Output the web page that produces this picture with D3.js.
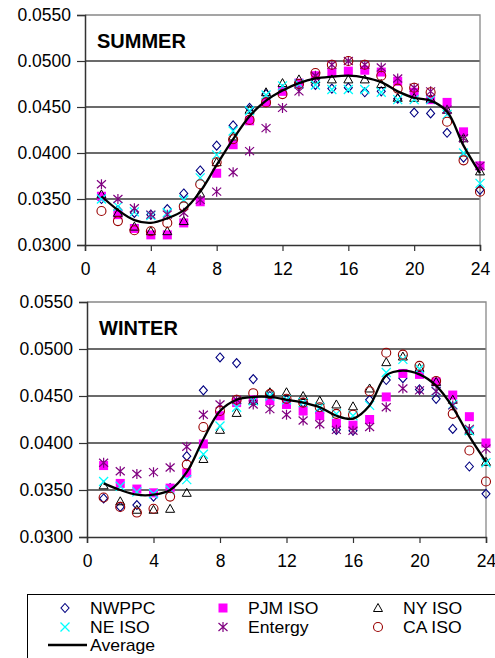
<!DOCTYPE html>
<html>
<head>
<meta charset="utf-8">
<script src="https://cdn.jsdelivr.net/npm/d3@7"></script>
<style>
  body { margin: 0; background: #fff; }
  text { font-family: Arial, "Liberation Sans", sans-serif; }
</style>
</head>
<body>
<div id="my_dataviz"></div>
<script>
var hours = [1,2,3,4,5,6,7,8,9,10,11,12,13,14,15,16,17,18,19,20,21,22,23,24];
var xTicks = [0,4,8,12,16,20,24];
var yTicks = [0.030,0.035,0.040,0.045,0.050,0.055];

var seriesNames = ["NWPPC","PJM ISO","NY ISO","NE ISO","Entergy","CA ISO"];

// summer
var sumNWPPC   = [0.0350,0.0338,0.0335,0.0333,0.0339,0.0356,0.0381,0.0408,0.0430,0.0449,0.0464,0.0469,0.0474,0.0474,0.0470,0.0471,0.0466,0.0467,0.0459,0.0444,0.0443,0.0422,0.0395,0.0360];
var sumPJM     = [0.0353,0.0333,0.0318,0.0311,0.0311,0.0324,0.0347,0.0378,0.0409,0.0435,0.0455,0.0467,0.0476,0.0484,0.0487,0.0489,0.0490,0.0488,0.0478,0.0466,0.0458,0.0455,0.0423,0.0386];
var sumNY      = [0.0355,0.0335,0.0320,0.0315,0.0315,0.0326,0.0356,0.0390,0.0418,0.0447,0.0466,0.0476,0.0480,0.0480,0.0480,0.0480,0.0480,0.0475,0.0460,0.0460,0.0459,0.0447,0.0416,0.0380];
var sumNE      = [0.0350,0.0342,0.0336,0.0332,0.0335,0.0349,0.0373,0.0398,0.0424,0.0446,0.0463,0.0473,0.0475,0.0474,0.0469,0.0469,0.0469,0.0466,0.0458,0.0458,0.0458,0.0442,0.0400,0.0367];
var sumEntergy = [0.0366,0.0350,0.0340,0.0333,0.0333,0.0335,0.0349,0.0358,0.0379,0.0402,0.0427,0.0449,0.0467,0.0484,0.0496,0.0500,0.0496,0.0493,0.0481,0.0471,0.0467,0.0447,0.0416,0.0386];
var sumCA      = [0.0337,0.0326,0.0316,0.0315,0.0324,0.0342,0.0366,0.0390,0.0415,0.0436,0.0455,0.0464,0.0475,0.0487,0.0496,0.0500,0.0496,0.0484,0.0470,0.0471,0.0466,0.0434,0.0392,0.0358];
var sumAverage = [0.0353,0.0338,0.0327,0.0324,0.0329,0.0338,0.0358,0.0387,0.0415,0.0440,0.0457,0.0468,0.0476,0.0481,0.0483,0.0484,0.0482,0.0477,0.0467,0.0460,0.0457,0.0445,0.0408,0.0378];

// winter
var winNWPPC   = [0.0341,0.0332,0.0334,0.0343,0.0352,0.0386,0.0456,0.0491,0.0485,0.0468,0.0450,0.0446,0.0443,0.0432,0.0414,0.0413,0.0446,0.0467,0.0469,0.0457,0.0447,0.0415,0.0375,0.0346];
var winPJM     = [0.0376,0.0357,0.0351,0.0347,0.0352,0.0368,0.0399,0.0429,0.0443,0.0446,0.0445,0.0441,0.0434,0.0429,0.0421,0.0419,0.0425,0.0449,0.0474,0.0473,0.0465,0.0451,0.0428,0.0400];
var winNY      = [0.0355,0.0338,0.0329,0.0329,0.0330,0.0347,0.0383,0.0414,0.0432,0.0445,0.0454,0.0454,0.0450,0.0445,0.0441,0.0439,0.0458,0.0486,0.0492,0.0480,0.0465,0.0446,0.0413,0.0380];
var winNE      = [0.0359,0.0354,0.0348,0.0346,0.0350,0.0361,0.0388,0.0418,0.0438,0.0445,0.0450,0.0446,0.0443,0.0438,0.0431,0.0429,0.0440,0.0475,0.0489,0.0479,0.0455,0.0441,0.0413,0.0379];
var winEntergy = [0.0379,0.0370,0.0367,0.0369,0.0374,0.0396,0.0430,0.0441,0.0446,0.0441,0.0436,0.0430,0.0424,0.0420,0.0414,0.0413,0.0417,0.0438,0.0458,0.0456,0.0455,0.0440,0.0415,0.0394];
var winCA      = [0.0342,0.0332,0.0326,0.0330,0.0343,0.0377,0.0417,0.0434,0.0446,0.0453,0.0452,0.0447,0.0443,0.0438,0.0431,0.0430,0.0455,0.0496,0.0494,0.0482,0.0466,0.0431,0.0392,0.0359];
var winAverage = [0.0357,0.0350,0.0345,0.0345,0.0350,0.0369,0.0404,0.0434,0.0446,0.0449,0.0449,0.0446,0.0443,0.0438,0.0429,0.0426,0.0440,0.0472,0.0477,0.0473,0.0461,0.0438,0.0407,0.0380];

var markers = ["diamond","square","triangle","cross","star","circle"];

var svg = d3.select("#my_dataviz")
    .append("svg")
    .attr("width", 495)
    .attr("height", 658);

function drawMarker(g, type, cx, cy) {
    if (type == "diamond") {
        g.append("path")
        .attr("d", `M${cx},${cy-4.5}L${cx+4},${cy}L${cx},${cy+4.5}L${cx-4},${cy}Z`)
        .attr("fill", "none").attr("stroke", "#000080").attr("stroke-width", 1.1);
    } else if (type == "square") {
        g.append("rect")
        .attr("x", cx-4.5).attr("y", cy-4.5).attr("width", 9).attr("height", 9)
        .attr("fill", "#ff00ff");
    } else if (type == "triangle") {
        g.append("path")
        .attr("d", `M${cx},${cy-4.5}L${cx+4.5},${cy+3.5}L${cx-4.5},${cy+3.5}Z`)
        .attr("fill", "none").attr("stroke", "#000").attr("stroke-width", 1);
    } else if (type == "cross") {
        g.append("path")
        .attr("d", `M${cx-4.5},${cy-4.5}L${cx+4.5},${cy+4.5}M${cx+4.5},${cy-4.5}L${cx-4.5},${cy+4.5}`)
        .attr("stroke", "#00ffff").attr("stroke-width", 1.3);
    } else if (type == "star") {
        g.append("path")
        .attr("d", `M${cx-4.5},${cy-4}L${cx+4.5},${cy+4}M${cx+4.5},${cy-4}L${cx-4.5},${cy+4}M${cx},${cy-5}L${cx},${cy+5}`)
        .attr("stroke", "#800080").attr("stroke-width", 1.2);
    } else if (type == "circle") {
        g.append("circle")
        .attr("cx", cx).attr("cy", cy).attr("r", 4.5)
        .attr("fill", "none").attr("stroke", "#990000").attr("stroke-width", 1.1);
    }
}

function drawPanel(left, right, top, bottom, title, series, average) {

    var x = d3.scaleLinear().domain([0, 24]).range([left, right]);
    var y = d3.scaleLinear().domain([0.030, 0.055]).range([bottom, top]);

    var g = svg.append("g");

    // gridlines
    g.selectAll(".grid")
    .data(yTicks.slice(1, 5))
    .enter().append("line")
    .attr("x1", left).attr("x2", right)
    .attr("y1", function(d) { return y(d); })
    .attr("y2", function(d) { return y(d); })
    .attr("stroke", "#3a3a3a")
    .attr("stroke-width", 1.3);

    // plot border top/right
    g.append("path")
    .attr("d", `M${left},${top}H${right}V${bottom}`)
    .attr("fill", "none")
    .attr("stroke", "#888")
    .attr("stroke-width", 1.3);

    var yAxis = g.append("g")
    .attr("transform", `translate(${left},0)`)
    .call(d3.axisLeft(y).tickValues(yTicks).tickFormat(d3.format(".4f")).tickSize(8).tickPadding(6));

    var xAxis = g.append("g")
    .attr("transform", `translate(0,${bottom})`)
    .call(d3.axisBottom(x).tickValues(xTicks).tickSize(6).tickPadding(12));

    [yAxis, xAxis].forEach(function(a) {
        a.select(".domain").attr("stroke", "#333").attr("stroke-width", 1.5);
        a.selectAll(".tick line").attr("stroke", "#333").attr("stroke-width", 1.2);
        a.selectAll("text")
        .attr("font-size", "17.5px")
        .attr("font-family", "Arial, 'Liberation Sans', sans-serif")
        .attr("fill", "#000");
    });

    g.append("text")
    .attr("x", left + 12)
    .attr("y", top + 33)
    .attr("font-size", "20px")
    .attr("font-weight", "bold")
    .text(title);

    series.forEach(function(vals, i) {
        var sg = g.append("g");
        vals.forEach(function(v, j) {
            drawMarker(sg, markers[i], x(hours[j]), y(v));
        });
    });

    g.append("path")
    .datum(average)
    .attr("fill", "none")
    .attr("stroke", "#000")
    .attr("stroke-width", 2.3)
    .attr("d", d3.line()
        .curve(d3.curveCatmullRom.alpha(0.5))
        .x(function(d, j) { return x(hours[j]); })
        .y(function(d) { return y(d); })
    );
}

drawPanel(85, 480, 15, 245, "SUMMER",
    [sumNWPPC, sumPJM, sumNY, sumNE, sumEntergy, sumCA], sumAverage);
drawPanel(87, 486, 302, 537, "WINTER",
    [winNWPPC, winPJM, winNY, winNE, winEntergy, winCA], winAverage);

// legend
var legend = svg.append("g");

legend.append("rect")
.attr("x", 27.5).attr("y", 594.5)
.attr("width", 500).attr("height", 100)
.attr("fill", "none")
.attr("stroke", "#000")
.attr("stroke-width", 1);

var legCols = [65, 223, 378];
var legRows = [608, 627];

// filled row by row, like the series order
seriesNames.forEach(function(name, i) {
    var col = i % 3, row = Math.floor(i / 3);
    drawMarker(legend, markers[i], legCols[col], legRows[row]);
    legend.append("text")
    .attr("transform", `translate(${legCols[col] + 25},${legRows[row] + 6}) scale(1.1,1)`)
    .attr("font-size", "16px")
    .text(name);
});

legend.append("line")
.attr("x1", 48).attr("x2", 87)
.attr("y1", 645).attr("y2", 645)
.attr("stroke", "#000")
.attr("stroke-width", 2.3);

legend.append("text")
.attr("transform", "translate(90,651) scale(1.1,1)")
.attr("font-size", "16px")
.text("Average");
</script>
</body>
</html>
